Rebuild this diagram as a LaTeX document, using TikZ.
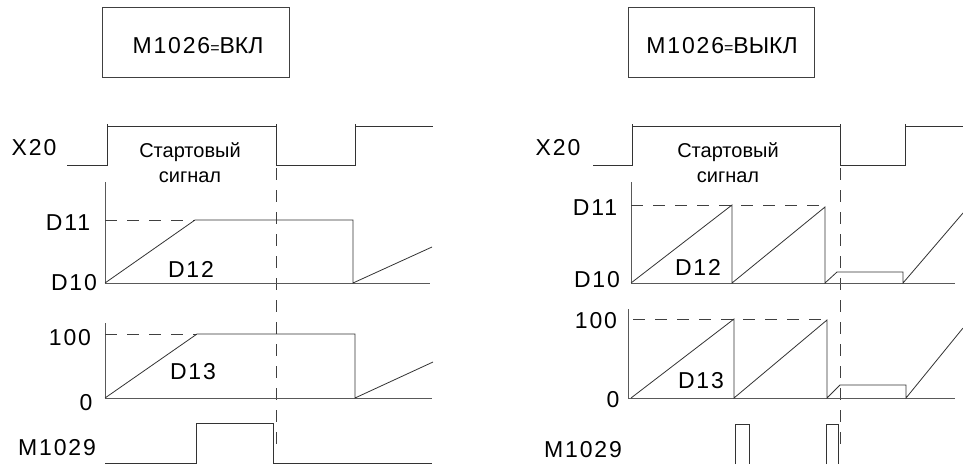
\documentclass[tikz,border=0pt]{standalone}
\usepackage{fontspec}
\setmainfont{Liberation Sans}
\newfontfamily\lblfont[LetterSpace=8]{Liberation Sans}
\begin{document}
\begin{tikzpicture}[x=1pt,y=-1pt,
  sig/.style={draw=black!80,line width=0.8pt},
  axisline/.style={draw=black!65,line width=0.9pt},
  dashline/.style={draw=black!75,line width=0.8pt,dash pattern=on 12pt off 10pt},
  lbl/.style={inner sep=0pt,anchor=base,font=\fontsize{23}{26}\lblfont},
  small/.style={inner sep=0pt,anchor=base,font=\fontsize{20}{23}\selectfont},
  boxed/.style={draw=black!75,line width=0.8pt}]
\useasboundingbox (0,0) rectangle (963,464);

% ===================== LEFT PANEL =====================
\draw[boxed] (102,7) rectangle (289,77);
\node[lbl] (bl) at (198,53) {M1026{\fontsize{16}{18}\selectfont=}{\fontsize{23}{26}\rmfamily ВКЛ}};

% X20
\node[lbl] (x20l) at (34,155) {X20};
\draw[sig] (67,165) -- (107,165) -- (107,126) -- (276,126) -- (276,165) -- (355,165) -- (355,126) -- (433,126);
\draw[sig] (107,124) -- (107,128) (276,124) -- (276,128) (355,124) -- (355,128);
\node[small] (stl) at (190,157) {Стартовый};
\node[small] (sgl) at (190,182) {сигнал};

% dashed vertical
\draw[dashline] (276,168) -- (276,447);

% D12
\node[lbl] (d11l) at (68,230) {D11};
\node[lbl] (d10l) at (74,290) {D10};
\node[lbl] (d12l) at (191,277) {D12};
\draw[axisline] (105,182) -- (105,283) -- (430,283);
\draw[dashline] (105,220) -- (195,220);
\draw[sig] (105,283) -- (195,220) -- (353,220) -- (353,283) -- (432,247);

% D13
\node[lbl] (c100l) at (70,345) {100};
\node[lbl] (c0l) at (86,410) {0};
\node[lbl] (d13l) at (193,379) {D13};
\draw[axisline] (105,323) -- (105,398) -- (432,398);
\draw[dashline] (105,334) -- (197,334);
\draw[sig] (105,398) -- (197,334) -- (355,334) -- (355,398) -- (433,362);

% M1029
\node[lbl] (m29l) at (57,455) {M1029};
\draw[sig] (105,463) -- (196,463) -- (196,423) -- (273,423) -- (273,463) -- (432,463);

% ===================== RIGHT PANEL =====================
\draw[boxed] (628,7) rectangle (814,77);
\node[lbl] (br) at (722,53) {M1026{\fontsize{16}{18}\selectfont=}{\fontsize{23}{26}\rmfamily ВЫКЛ}};

% X20
\node[lbl] (x20r) at (558,155) {X20};
\draw[sig] (593,165) -- (632,165) -- (632,126) -- (840,126) -- (840,165) -- (905,165) -- (905,126) -- (963,126);
\draw[sig] (632,124) -- (632,128) (840,124) -- (840,128) (905,124) -- (905,128);
\node[small] (str) at (728,157) {Стартовый};
\node[small] (sgr) at (728,182) {сигнал};

% dashed vertical
\draw[dashline] (840,168) -- (840,447);

% D12
\node[lbl] (d11r) at (595,215) {D11};
\node[lbl] (d10r) at (597,287) {D10};
\node[lbl] (d12r) at (698,275) {D12};
\draw[axisline] (631,182) -- (631,283) -- (955,283);
\draw[dashline] (631,205) -- (828,205);
\draw[sig] (631,283) -- (732,205) -- (732,283) -- (825,207) -- (825,283) -- (837,272) -- (903,272) -- (903,283) -- (963,213);

% D13
\node[lbl] (c100r) at (596,328) {100};
\node[lbl] (c0r) at (613,407) {0};
\node[lbl] (d13r) at (701,388) {D13};
\draw[axisline] (628,309) -- (628,398) -- (955,398);
\draw[dashline] (633,319) -- (827,319);
\draw[sig] (631,398) -- (734,319) -- (734,398) -- (827,320) -- (827,398) -- (840,385) -- (906,385) -- (906,398) -- (963,328);

% M1029
\node[lbl] (m29r) at (583,457) {M1029};
\draw[sig] (735,464) -- (735,424) -- (749,424) -- (749,464);
\draw[sig] (826,464) -- (826,424) -- (838,424) -- (838,464);
\end{tikzpicture}
\end{document}
